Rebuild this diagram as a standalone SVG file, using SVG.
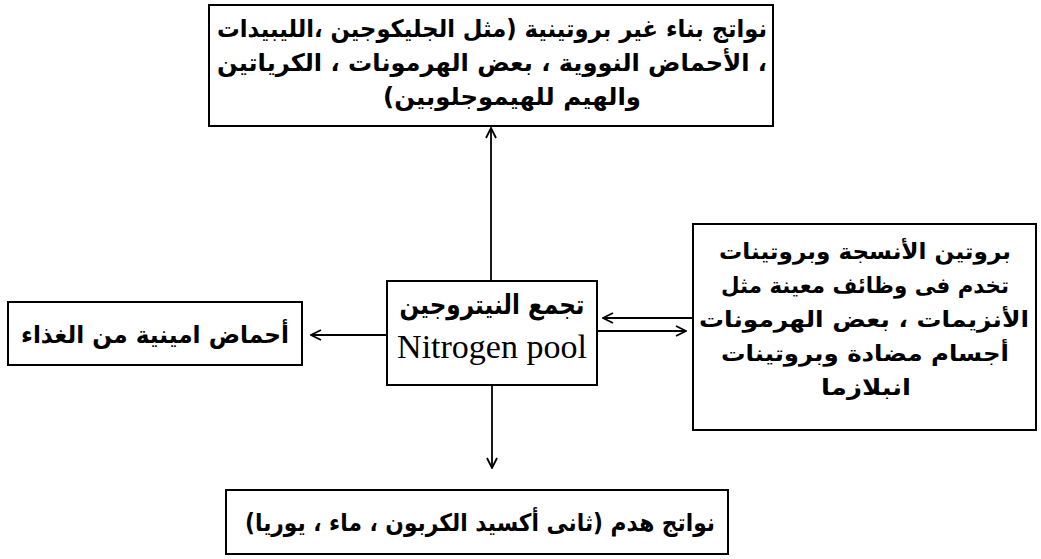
<svg xmlns="http://www.w3.org/2000/svg" width="1041" height="559" viewBox="0 0 1041 559">
<style>
.box{fill:#fff;stroke:#000;stroke-width:2}
.ar{font-family:"DejaVu Sans",sans-serif;font-weight:bold;font-size:24px;fill:#000;text-anchor:middle;direction:rtl}
.en{font-family:"Liberation Serif",serif;font-size:34px;fill:#000;text-anchor:middle}
.con line{stroke:#000;stroke-width:1.8;fill:none}
</style>
<defs>
<marker id="arr" viewBox="0 0 12 12" refX="11" refY="6" markerWidth="12" markerHeight="12" orient="auto" markerUnits="userSpaceOnUse">
<path d="M1,1 L11,6 L1,11" fill="none" stroke="#000" stroke-width="1.8"/>
</marker>
</defs>
<rect width="1041" height="559" fill="#fff"/>
<g id="top">
<rect class="box" x="209" y="5" width="564" height="121"/>
<text class="ar" x="492" y="37" textLength="550" lengthAdjust="spacingAndGlyphs">نواتج بناء غير بروتينية (مثل الجليكوجين ،الليبيدات</text>
<text class="ar" x="492" y="71" textLength="550" lengthAdjust="spacingAndGlyphs">، الأحماض النووية ، بعض الهرمونات ، الكرياتين</text>
<text class="ar" x="512" y="105" textLength="258" lengthAdjust="spacingAndGlyphs">والهيم للهيموجلوبين)</text>
</g>
<g id="pool">
<rect class="box" x="387" y="281" width="210" height="104"/>
<text class="ar" x="492" y="314" style="font-size:27px" textLength="185" lengthAdjust="spacingAndGlyphs">تجمع النيتروجين</text>
<text class="en" x="492" y="358">Nitrogen pool</text>
</g>
<g id="food">
<rect class="box" x="8" y="302" width="294" height="63"/>
<text class="ar" x="155" y="343" textLength="268" lengthAdjust="spacingAndGlyphs">أحماض امينية من الغذاء</text>
</g>
<g id="proteins">
<rect class="box" x="693" y="224" width="343" height="206"/>
<text class="ar" x="865" y="259" style="font-size:22px" textLength="292" lengthAdjust="spacingAndGlyphs">بروتين الأنسجة وبروتينات</text>
<text class="ar" x="865" y="293" style="font-size:22px" textLength="288" lengthAdjust="spacingAndGlyphs">تخدم فى وظائف معينة مثل</text>
<text class="ar" x="864" y="327" style="font-size:22px" textLength="330" lengthAdjust="spacingAndGlyphs">الأنزيمات ، بعض الهرمونات</text>
<text class="ar" x="865" y="361" style="font-size:22px" textLength="288" lengthAdjust="spacingAndGlyphs">أجسام مضادة وبروتينات</text>
<text class="ar" x="866" y="395" style="font-size:22px" textLength="90" lengthAdjust="spacingAndGlyphs">انبلازما</text>
</g>
<g id="catabolic">
<rect class="box" x="226" y="490" width="502" height="64"/>
<text class="ar" x="480" y="531" textLength="470" lengthAdjust="spacingAndGlyphs">نواتج هدم (ثانى أكسيد الكربون ، ماء ، يوريا)</text>
</g>
<g id="connectors" class="con">
<line x1="491" y1="281" x2="491" y2="128" marker-end="url(#arr)"/>
<line x1="387" y1="335" x2="311" y2="335" marker-end="url(#arr)"/>
<line x1="492" y1="385" x2="492" y2="468" marker-end="url(#arr)"/>
<line x1="693" y1="318" x2="603" y2="318" marker-end="url(#arr)"/>
<line x1="598" y1="331" x2="686" y2="331" marker-end="url(#arr)"/>
</g>
</svg>
